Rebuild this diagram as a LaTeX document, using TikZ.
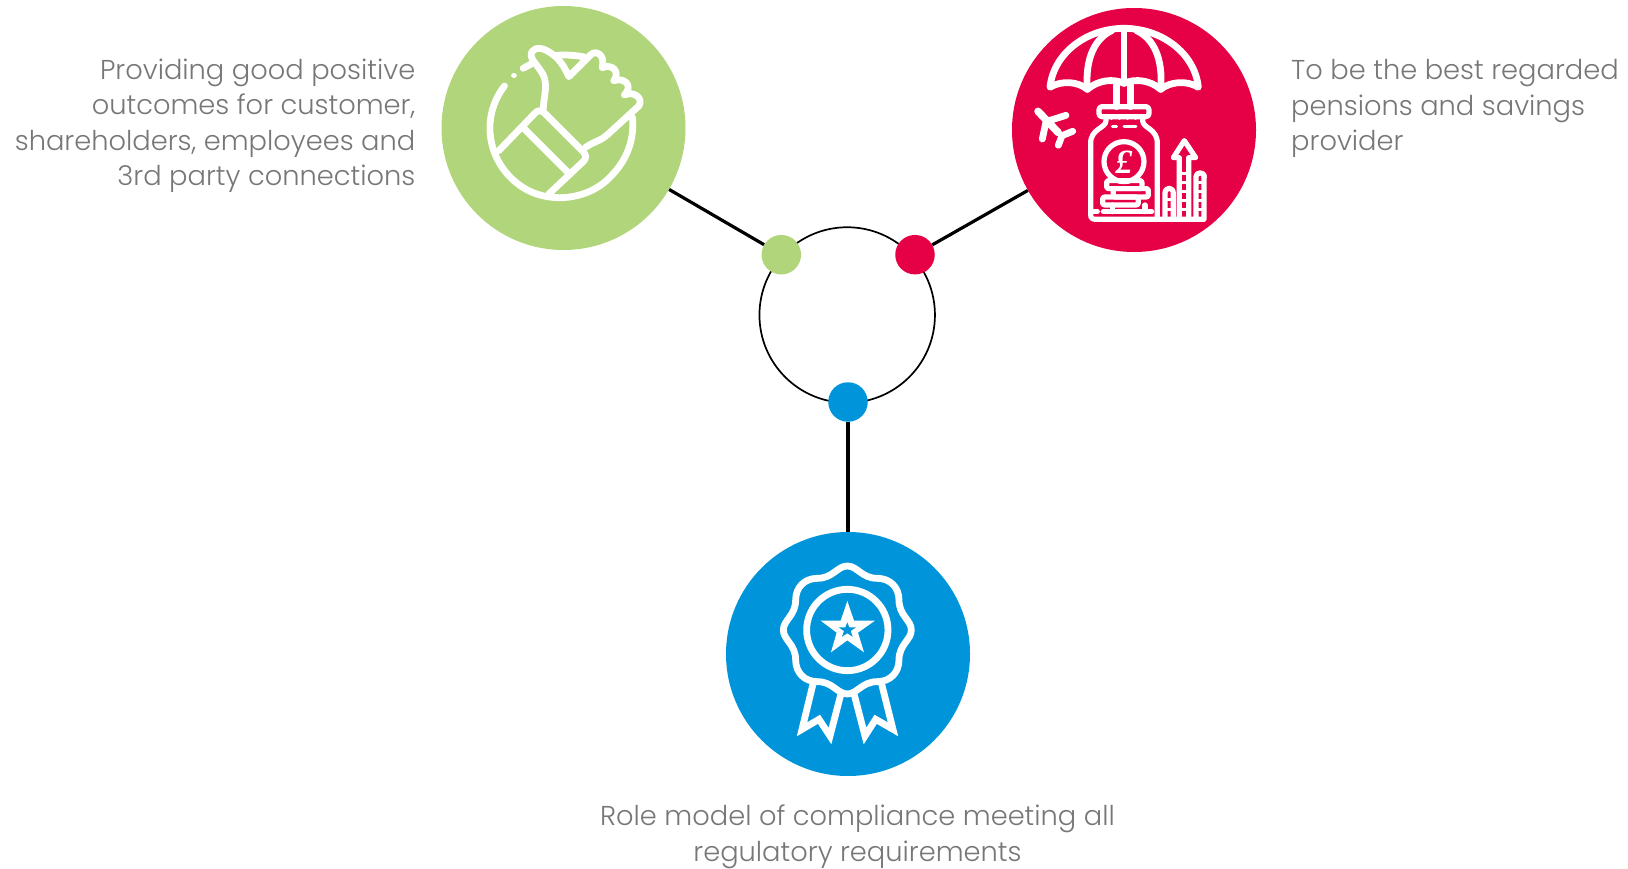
\documentclass[tikz,border=0pt]{standalone}
\usepackage{fontspec}
\setmainfont{Poppins}[UprightFont=* Light]
\newfontfamily\poundfont{Liberation Serif}
\definecolor{cg}{HTML}{B0D57A}
\definecolor{cr}{HTML}{E60045}
\definecolor{cb}{HTML}{0095DB}
\definecolor{ctext}{HTML}{777777}
\tikzset{
 bigc/.style={circle,inner sep=0pt,minimum size=244pt},
 dotc/.style={circle,inner sep=0pt,minimum size=39.5pt},
 link/.style={draw=black,line width=3.2pt},
 lab/.style={text=ctext,inner sep=0pt,font=\fontsize{27.3}{35.2}\selectfont},
 ico/.style={draw=white,line width=6.8pt,line cap=round,line join=round},
 fine/.style={line width=5.2pt},
 zoomed/.style={x=0.3333pt,y=-0.3333pt},
}
\begin{document}
\begin{tikzpicture}[x=1pt,y=-1pt]
\useasboundingbox (0,0) rectangle (1628,869);
\node[circle,draw=black,line width=1.7pt,inner sep=0pt,minimum size=175.5pt] (ring) at (847.2,315) {};
\node[bigc,fill=cg] (green) at (563.5,128) {};
\node[bigc,fill=cr] (red) at (1134,130) {};
\node[bigc,fill=cb] (blue) at (848,654) {};
\node[dotc,fill=cg] (gdot) at (781.3,254.7) {};
\node[dotc,fill=cr] (rdot) at (915,254.7) {};
\node[dotc,fill=cb] (bdot) at (848,402) {};
\draw[link] (green) -- (gdot);
\draw[link] (red) -- (rdot);
\draw[link] (blue) -- (bdot);
% thumb icon
\begin{scope}[shift={(430.5,0)},zoomed]
\draw[ico] (222,258) .. controls (150,350) and (170,480) .. (260,550) .. controls (340,615) and (470,605) .. (540,530) .. controls (590,480) and (612,420) .. (606,352);
\draw[ico] (278,205) -- (302,192);
\draw[ico,line width=5.5pt] (250,226) -- (250.5,226);
\draw[ico] (378,166) .. controls (405,164) and (435,165) .. (465,172);
\draw[ico] (338,328) .. controls (340,290) and (350,265) .. (342,235) .. controls (335,210) and (305,185) .. (302,168) .. controls (300,145) and (325,140) .. (345,150) .. controls (375,165) and (395,185) .. (415,230) -- (482,163) .. controls (498,150) and (525,165) .. (515,203) .. controls (545,190) and (570,215) .. (550,242) .. controls (580,232) and (610,255) .. (582,285) .. controls (610,272) and (640,295) .. (625,318) -- (530,405) .. controls (515,420) and (490,425) .. (465,442);
\draw[ico] (205,452) -- (315,338) .. controls (325,328) and (335,332) .. (345,342) -- (458,455) .. controls (468,465) and (468,475) .. (458,485) -- (355,582);
\draw[ico] (280,385) -- (415,520);
\end{scope}
% umbrella icon
\begin{scope}[shift={(1000,0)},zoomed]
\draw[ico] (150,262) .. controls (160,160) and (260,85) .. (372,85) .. controls (485,85) and (585,160) .. (595,262) .. controls (560,240) and (510,245) .. (482,268) .. controls (450,240) and (405,235) .. (372,250) .. controls (340,235) and (295,240) .. (262,268) .. controls (235,245) and (185,240) .. (150,262) -- cycle;
\draw[ico] (372,85) -- (372,250);
\draw[ico] (335,92) .. controls (285,115) and (255,175) .. (262,268);
\draw[ico] (410,92) .. controls (460,115) and (490,175) .. (482,268);
\draw[ico] (350,255) -- (350,320) (392,255) -- (392,320);
\draw[ico,fine,rounded corners=3pt] (297,320) rectangle (447,350);
\draw[ico,fine] (318,350) -- (318,362) .. controls (318,385) and (272,385) .. (272,430) -- (272,645) .. controls (272,655) and (278,658) .. (288,658) -- (612,658) -- (612,525);
\draw[ico,fine] (428,350) -- (428,362) .. controls (428,385) and (472,385) .. (472,430) -- (472,655);
\draw[ico,line width=3pt] (337,379) -- (350,379) (372,379) -- (408,379);
\foreach \tx in {333,358,383,408} \draw[ico,line width=3pt] (\tx,350) -- (\tx,356);
\draw[ico,fine] (372,485) circle[radius=60];
\node[text=white,inner sep=0pt,font=\poundfont\fontsize{34}{34}\bfseries\itshape\selectfont] (pound) at (372,487) {£};
\draw[ico,fine,rounded corners=2pt] (320,542) rectangle (426,566);
\draw[ico,fine,rounded corners=2pt] (340,566) rectangle (445,591);
\draw[ico,fine,rounded corners=2pt] (308,591) rectangle (415,615);
\draw[ico,fine] (338,615) -- (338,635) (435,615) -- (435,635);
\draw[ico,fine] (282,635) -- (292,635) (310,635) -- (455,635);
\draw[ico,fine] (495,658) -- (495,580) .. controls (495,560) and (520,560) .. (520,580) -- (520,658);
\draw[ico,line width=3pt] (495,600) -- (520,600) (495,628) -- (520,628);
\draw[ico,fine] (538,658) -- (538,473) -- (520,473) -- (553,422) -- (587,473) -- (566,473) -- (566,658);
\foreach \ty in {520,548,575,602,630} \draw[ico,line width=3pt] (538,\ty) -- (566,\ty);
\draw[ico,fine] (588,658) -- (588,530) .. controls (588,515) and (613,515) .. (613,530);
\foreach \ty in {548,575,602,630} \draw[ico,line width=3pt] (588,\ty) -- (613,\ty);
% plane
\draw[ico,line width=7.5pt] (114,334) -- (175,398);
\draw[ico] (127,417) -- (138,365) -- (198,346);
\draw[ico] (175,436) -- (186,407) -- (218,394);
\end{scope}
% rosette icon
\begin{scope}[shift={(720,530)},zoomed]
\draw[ico] (382,108) .. controls (412,108) and (425,145) .. (472,145) .. controls (510,145) and (537,172) .. (537,210) .. controls (537,257) and (574,270) .. (574,300) .. controls (574,330) and (537,343) .. (537,390) .. controls (537,428) and (510,455) .. (472,455) .. controls (425,455) and (412,492) .. (382,492) .. controls (352,492) and (339,455) .. (292,455) .. controls (254,455) and (227,428) .. (227,390) .. controls (227,343) and (190,330) .. (190,300) .. controls (190,270) and (227,257) .. (227,210) .. controls (227,172) and (254,145) .. (292,145) .. controls (339,145) and (352,108) .. (382,108) -- cycle;
\draw[ico] (382,300) circle[radius=122];
\fill[white] (382,213) -- (402,272) -- (465,272) -- (414,308) -- (432,367) -- (382,331) -- (333,367) -- (350,308) -- (302,272) -- (362,272) -- cycle;
\fill[cb] (382,277) -- (388,292) -- (408,292) -- (392,303) -- (398,320) -- (382,310) -- (366,320) -- (372,303) -- (356,292) -- (376,292) -- cycle;
\draw[ico,line cap=butt,line join=miter] (280,458) -- (246,598) -- (297,568) -- (330,618) -- (362,495);
\draw[ico,line cap=butt,line join=miter] (484,458) -- (519,598) -- (467,568) -- (435,618) -- (403,495);
\end{scope}
\node[lab,align=right,anchor=north east] (t1) at (415.5,59) {Providing good positive\\outcomes for customer,\\shareholders, employees and\\3rd party connections};
\node[lab,align=left,anchor=north west] (t2) at (1291,59.5) {To be the best regarded\\pensions and savings\\provider};
\node[lab,align=center,anchor=north] (t3) at (857.5,805) {Role model of compliance meeting all\\regulatory requirements};
\end{tikzpicture}
\end{document}
